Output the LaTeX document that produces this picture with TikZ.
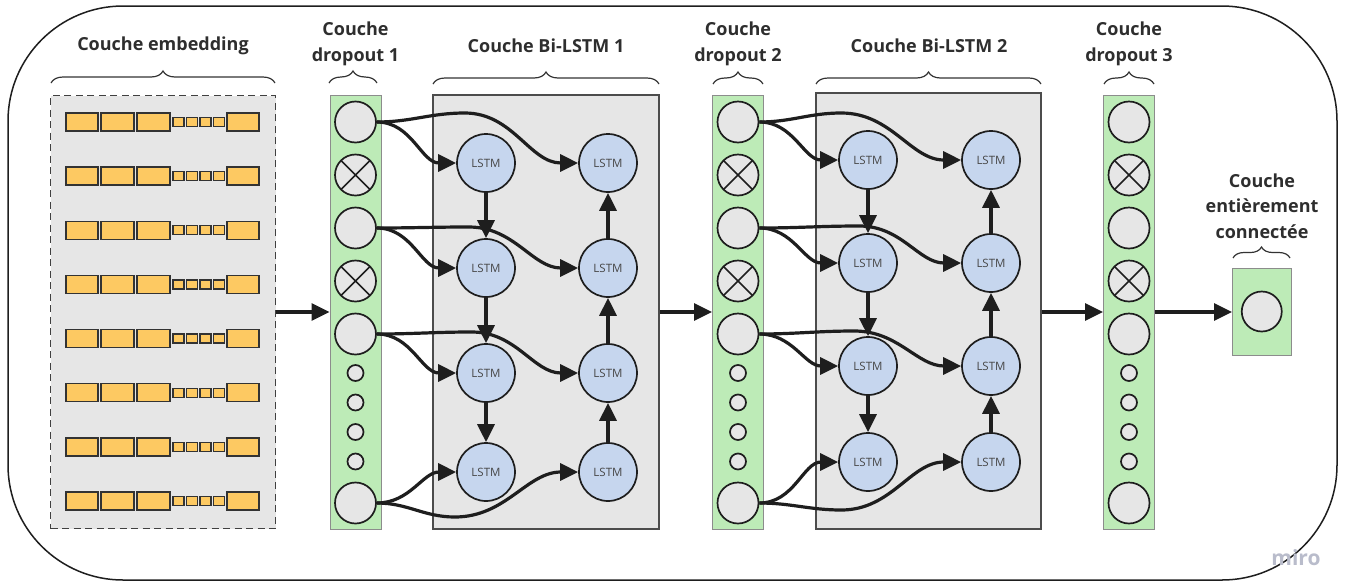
\documentclass[tikz,border=0pt]{standalone}
\usepackage{fontspec}
\setmainfont{Open Sans}
\usetikzlibrary{arrows.meta,decorations.pathreplacing,calc}

\definecolor{dropgreen}{HTML}{BDEBB7}
\definecolor{boxgray}{HTML}{E6E6E6}
\definecolor{lstmblue}{HTML}{C6D6EE}
\definecolor{embyellow}{HTML}{FDC962}
\definecolor{inkdark}{HTML}{1E1E1E}
\definecolor{framegray}{HTML}{8C8C8C}
\definecolor{mirogray}{HTML}{B9BCCB}

\tikzset{
  lbl/.style={font=\fontsize{18}{25.5}\selectfont\bfseries, align=center, text=black!82},
  brc/.style={decorate, decoration={brace, amplitude=12pt}, line width=1.2pt, draw=black!80},
  colbox/.style={draw=framegray, line width=1pt, fill=dropgreen, inner sep=0pt},
  lstmbox/.style={draw=black!70, line width=1.5pt, fill=boxgray, inner sep=0pt},
  embbox/.style={draw=black!75, line width=1.4pt, dash pattern=on 7pt off 4.5pt, fill=boxgray, inner sep=0pt},
  drop/.style={circle, draw=inkdark, line width=1.7pt, fill=boxgray, minimum size=41pt, inner sep=0pt},
  dropx/.style={drop, path picture={
      \draw[line width=1.7pt, inkdark] (path picture bounding box.north west) -- (path picture bounding box.south east)
            (path picture bounding box.north east) -- (path picture bounding box.south west);}},
  dsmall/.style={drop, minimum size=16pt},
  lstm/.style={circle, draw=inkdark, line width=1.7pt, fill=lstmblue, minimum size=58pt, inner sep=0pt,
    font=\fontsize{11.5}{13}\selectfont, text=black!72},
  yel/.style={fill=embyellow, draw=black!80, line width=1.3pt},
  arr/.style={line width=3.2pt, draw=inkdark, -{Triangle[length=18pt,width=17pt]}},
}

\begin{document}
\begin{tikzpicture}[x=1pt,y=-1pt]
\useasboundingbox (0,0) rectangle (1346,582);

% outer frame
\draw[line width=1.5pt, draw=inkdark, rounded corners=115pt] (8,6) rectangle (1337,580);

% embedding layer
\node[embbox, minimum width=225pt, minimum height=433pt] (emb) at (163,312) {};
\foreach \i in {0,...,7} {
  \pgfmathsetmacro\yy{122+54.14*\i}
  \draw[yel] (66,\yy-9) rectangle (98,\yy+9);
  \draw[yel] (101,\yy-9) rectangle (134,\yy+9);
  \draw[yel] (137,\yy-9) rectangle (170,\yy+9);
  \draw[yel] (173,\yy-4.5) rectangle (184,\yy+4.5);
  \draw[yel] (186.5,\yy-4.5) rectangle (197.5,\yy+4.5);
  \draw[yel] (200,\yy-4.5) rectangle (211,\yy+4.5);
  \draw[yel] (213.5,\yy-4.5) rectangle (224.5,\yy+4.5);
  \draw[yel] (227,\yy-9) rectangle (259,\yy+9);
}

% dropout columns
\foreach \c/\x in {1/355.5, 2/738, 3/1129} {
  \node[colbox, minimum width=51pt, minimum height=434pt] (c\c) at (\x,312) {};
  \foreach \k/\y/\t in {1/122/drop, 2/175/dropx, 3/228/drop, 4/281/dropx, 5/334/drop,
                        6/373/dsmall, 7/402.5/dsmall, 8/432/dsmall, 9/461.5/dsmall, 10/503/drop}
    \node[\t] (d\c-\k) at (\x,\y) {};
}

% Bi-LSTM blocks
\node[lstmbox, minimum width=226pt, minimum height=434pt] (b1) at (546,312) {};
\node[lstmbox, minimum width=225pt, minimum height=436pt] (b2) at (928.5,311) {};

\foreach \r/\y in {1/163, 2/268, 3/373, 4/472} {
  \node[lstm] (p\r) at (486,\y) {LSTM};
  \node[lstm] (q\r) at (608,\y) {LSTM};
}
\foreach \r/\y in {1/160, 2/263, 3/366, 4/462} {
  \node[lstm] (u\r) at (868,\y) {LSTM};
  \node[lstm] (v\r) at (991,\y) {LSTM};
}

% fully connected layer
\node[colbox, minimum width=58.5pt, minimum height=87pt] (fc) at (1261.75,311.5) {};
\node[drop, minimum size=40pt] (fcn) at (1261.75,311.5) {};

% layer-to-layer arrows
\draw[arr] (emb.east |- c1.west) -- (c1.west);
\draw[arr] (b1.east |- c2.west) -- (c2.west);
\draw[arr] (b2.east |- c3.west) -- (c3.west);
\draw[arr] (c3.east) -- (fc.west |- c3.east);

% recurrent links inside the blocks
\foreach \a/\b in {p1/p2, p2/p3, p3/p4, u1/u2, u2/u3, u3/u4}
  \draw[arr] (\a.south) -- (\b.north);
\foreach \a/\b in {q4/q3, q3/q2, q2/q1, v4/v3, v3/v2, v2/v1}
  \draw[arr] (\a.north) -- (\b.south);

% inputs of block 1
\draw[arr] (d1-1.east) to[out=0,in=180] (p1.west);
\draw[arr] (d1-1.east) to[out=0,in=180] ++(88,-9) to[out=0,in=180] (q1.west);
\draw[arr] (d1-3.east) to[out=0,in=180] (p2.west);
\draw[arr] (d1-3.east) to[out=0,in=180] ++(92,-1) to[out=0,in=180] (q2.west);
\draw[arr] (d1-5.east) to[out=0,in=180] (p3.west);
\draw[arr] (d1-5.east) to[out=0,in=180] ++(95,-2) to[out=0,in=180] (q3.west);
\draw[arr] (d1-10.east) to[out=0,in=180] (p4.west);
\draw[arr] (d1-10.east) to[out=0,in=180] ++(78,14) to[out=0,in=180] (q4.west);

% inputs of block 2
\draw[arr] (d2-1.east) to[out=0,in=180] (u1.west);
\draw[arr] (d2-1.east) to[out=0,in=180] ++(82,-9) to[out=0,in=180] (v1.west);
\draw[arr] (d2-3.east) to[out=0,in=180] (u2.west);
\draw[arr] (d2-3.east) to[out=0,in=180] ++(100,-2) to[out=0,in=180] (v2.west);
\draw[arr] (d2-5.east) to[out=0,in=180] (u3.west);
\draw[arr] (d2-5.east) to[out=0,in=180] ++(95,-3) to[out=0,in=180] (v3.west);
\draw[arr] (d2-10.east) to[out=0,in=180] (u4.west);
\draw[arr] (d2-10.east) to[out=0,in=180] ++(82,7) to[out=0,in=180] (v4.west);

% titles and braces
\node[lbl] (t0) at (163,46) {Couche embedding};
\node[lbl] (t1) at (355.5,44) {Couche\\dropout 1};
\node[lbl] (t2) at (546,46) {Couche Bi-LSTM 1};
\node[lbl] (t3) at (738,44) {Couche\\dropout 2};
\node[lbl] (t4) at (929,46) {Couche Bi-LSTM 2};
\node[lbl] (t5) at (1129,44) {Couche\\dropout 3};
\node[lbl] (t6) at (1262,206) {Couche\\entièrement\\connectée};

\draw[brc] (51,83) -- (275,83);
\draw[brc] (329,83) -- (377,83);
\draw[brc] (433,84) -- (659,84);
\draw[brc] (713,84) -- (763,84);
\draw[brc] (816,84) -- (1041,84);
\draw[brc] (1104,84) -- (1154,84);
\draw[brc, decoration={brace, amplitude=11pt}] (1233,258) -- (1290,258);

\node[text=mirogray, font=\fontsize{21}{24}\selectfont\bfseries] (wm) at (1296,558) {miro};
\end{tikzpicture}
\end{document}
